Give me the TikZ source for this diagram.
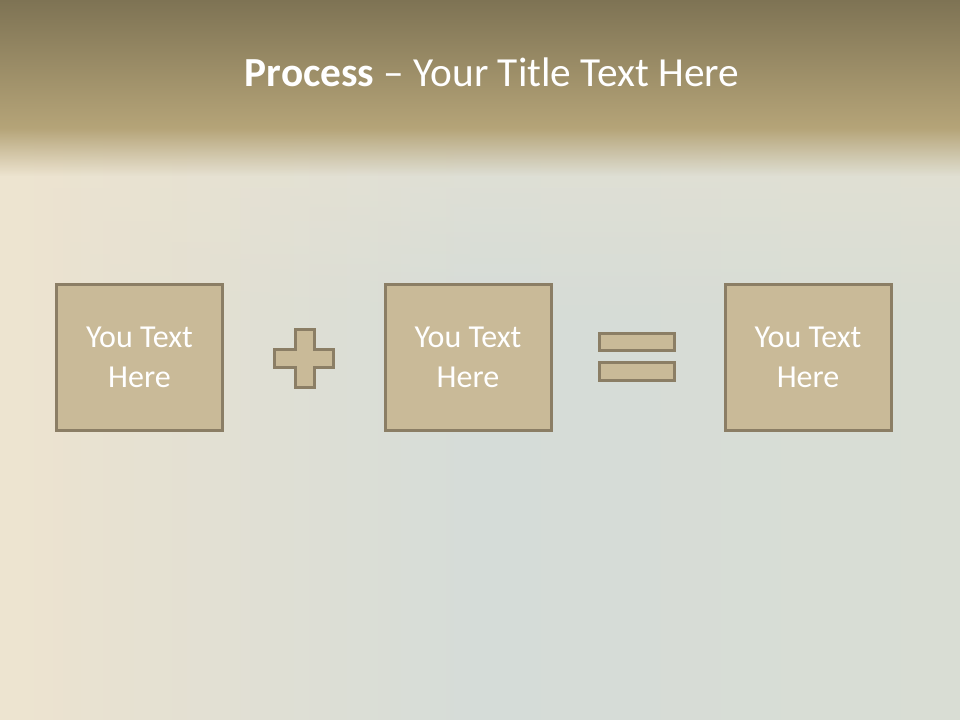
\documentclass[tikz,border=0pt]{standalone}
\usepackage{fontspec}
\setmainfont{Carlito}
\usetikzlibrary{fadings}
\definecolor{bandtop}{HTML}{7E7354}
\definecolor{bandbot}{HTML}{B5A478}
\definecolor{creamL}{HTML}{EDE3CF}
\definecolor{blueM}{HTML}{D5DCD8}
\definecolor{blueR}{HTML}{D9DDD4}
\definecolor{cream}{HTML}{EEE5D1}
\definecolor{boxfill}{HTML}{C9BA98}
\definecolor{boxline}{HTML}{8B7E65}
\tikzset{
  card/.style={draw=boxline, line width=2.25pt, fill=boxfill, minimum width=124.5pt, minimum height=109.5pt,
    inner sep=0pt, text=white, align=center, font=\fontsize{24}{30}\selectfont},
  sym/.style={draw=boxline, line width=2.25pt, fill=boxfill, line join=miter},
  titletext/.style={text=white, font=\fontsize{31}{36}\selectfont, anchor=base}
}
\begin{document}
\begin{tikzpicture}[x=0.75pt,y=-0.75pt]
\useasboundingbox (0,0) rectangle (960,720);
% background body
\shade[left color=creamL, right color=blueR, middle color=blueM] (0,0) rectangle (960,720);
\fill[cream, path fading=east, opacity=0.8] (0,0) rectangle (90,720);
\fill[cream, path fading=south, opacity=0.5] (0,120) rectangle (960,320);
% top band
\shade[top color=bandtop, bottom color=bandbot] (0,0) rectangle (960,128.5);
\fill[bandbot, path fading=south] (0,128) rectangle (960,176);
% title
\node[titletext] (title) at (492,87) {\textbf{Process} – Your Title Text Here};
% cards
\node[card] (c1) at (139.5,357.5) {You Text\\Here};
\node[card] (c2) at (468,357.5) {You Text\\Here};
\node[card] (c3) at (808,357.5) {You Text\\Here};
% plus
\draw[sym] (274.5,349) -- (295,349) -- (295,329) -- (314,329) -- (314,349) -- (333,349)
  -- (333,367.5) -- (314,367.5) -- (314,387.5) -- (295,387.5) -- (295,367.5) -- (274.5,367.5) -- cycle;
% equals
\draw[sym] (599,333.5) rectangle (674,350.5);
\draw[sym] (599,362.5) rectangle (674,380.5);
\end{tikzpicture}
\end{document}
